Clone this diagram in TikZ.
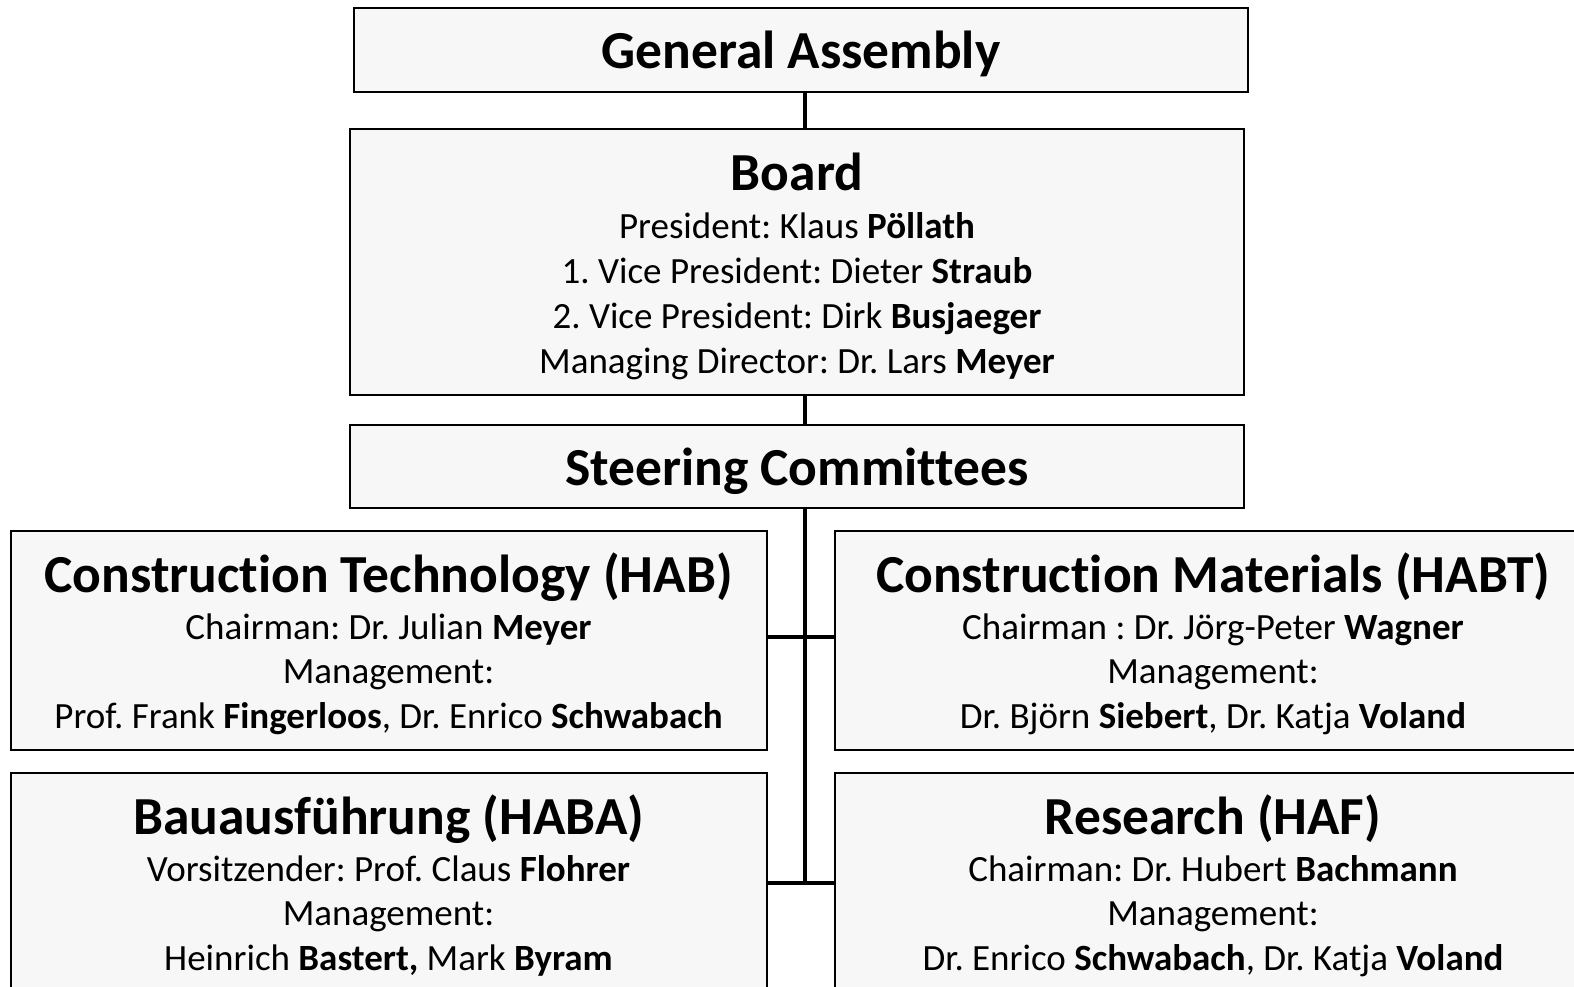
\documentclass[tikz,border=0pt]{standalone}
\usepackage{fontspec}
\setmainfont{Carlito}[Ligatures={NoCommon}]
\definecolor{boxgray}{HTML}{F7F7F7}
\frenchspacing
\begin{document}
\begin{tikzpicture}[x=1pt,y=-1pt,
  box/.style={draw=black, line width=2pt, fill=boxgray, inner sep=0pt, outer sep=0pt, anchor=north west},
  conn/.style={line width=4pt, draw=black},
  ttl/.style={font=\fontsize{53.5}{60}\selectfont\bfseries, anchor=base, inner sep=0pt},
  txt/.style={font=\fontsize{37}{42}\selectfont, anchor=base, inner sep=0pt}]
\useasboundingbox (0,0) rectangle (1574,987);
\clip (0,0) rectangle (1574,987);
\fill[white] (0,0) rectangle (1574,987);
% boxes
\node[box, minimum width=894, minimum height=84.4] (ga) at (354,8) {};
\node[box, minimum width=894, minimum height=265] (board) at (350,129.5) {};
\node[box, minimum width=894, minimum height=83.4] (sc) at (350,424.6) {};
\node[box, minimum width=756.5, minimum height=219] (hab) at (10.5,531) {};
\node[box, minimum width=756.5, minimum height=250] (haba) at (10.5,773) {};
\node[box, minimum width=756.5, minimum height=219] (habt) at (835,531) {};
\node[box, minimum width=756.5, minimum height=250] (haf) at (835,773) {};
% connectors
\coordinate (spine) at (805,0);
\coordinate (j1) at (805,637);
\coordinate (j2) at (805,883);
\draw[conn] (ga.south -| spine) -- (board.north -| spine);
\draw[conn] (board.south -| spine) -- (sc.north -| spine);
\draw[conn] (sc.south -| spine) -- (j2);
\draw[conn] (hab.east |- j1) -- (habt.west |- j1);
\draw[conn] (haba.east |- j2) -- (haf.west |- j2);
% texts
\node[ttl] (tga) at (801,68.3) {General Assembly};
\node[ttl] (tbo) at (797,190.7) {Board};
\node[txt] (b1) at (797,238) {President: Klaus \textbf{Pöllath}};
\node[txt] (b2) at (797,283) {1. Vice President: Dieter \textbf{Straub}};
\node[txt] (b3) at (797,328) {2. Vice President: Dirk \textbf{Busjaeger}};
\node[txt] (b4) at (797,373.4) {Managing Director: Dr. Lars \textbf{Meyer}};
\node[ttl] (tsc) at (797,485.8) {Steering Committees};
\node[ttl] (thab) at (388.5,592) {Construction Technology (HAB)};
\node[txt] (h1) at (388.5,639.4) {Chairman: Dr. Julian \textbf{Meyer}};
\node[txt] (h2) at (388.5,683.6) {Management:};
\node[txt] (h3) at (388.5,728.8) {Prof. Frank \textbf{Fingerloos}, Dr. Enrico \textbf{Schwabach}};
\node[ttl] (thabt) at (1213,592) {Construction Materials (HABT)};
\node[txt] (t1) at (1213,639.4) {Chairman : Dr. Jörg-Peter \textbf{Wagner}};
\node[txt] (t2) at (1213,683.6) {Management:};
\node[txt] (t3) at (1213,728.8) {Dr. Björn \textbf{Siebert}, Dr. Katja \textbf{Voland}};
\node[ttl] (thaba) at (388.5,834) {Bauausführung (HABA)};
\node[txt] (a1) at (388.5,881) {Vorsitzender: Prof. Claus \textbf{Flohrer}};
\node[txt] (a2) at (388.5,925.5) {Management:};
\node[txt] (a3) at (388.5,970.7) {Heinrich \textbf{Bastert,} Mark \textbf{Byram}};
\node[ttl] (thaf) at (1213,834) {Research (HAF)};
\node[txt] (f1) at (1213,881) {Chairman: Dr. Hubert \textbf{Bachmann}};
\node[txt] (f2) at (1213,925.5) {Management:};
\node[txt] (f3) at (1213,970.7) {Dr. Enrico \textbf{Schwabach}, Dr. Katja \textbf{Voland}};
\end{tikzpicture}
\end{document}
